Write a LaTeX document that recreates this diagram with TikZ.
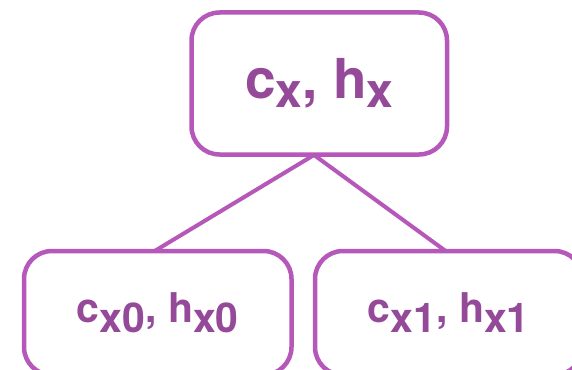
\documentclass[tikz,border=0pt]{standalone}
\usepackage{fontspec}
\setmainfont{TeX Gyre Heros}
\definecolor{boxline}{RGB}{181,88,185}
\definecolor{txt}{RGB}{148,74,152}
\newcommand{\sbx}[2]{\raisebox{#1}{#2}}
\tikzset{
  treebox/.style={draw=boxline, line width=4.5pt, rounded corners=28pt, fill=white, inner sep=0pt, text=txt, font=\bfseries},
  edge/.style={draw=boxline, line width=4pt}
}
\begin{document}
\begin{tikzpicture}[x=1pt,y=-1pt]
\useasboundingbox (0,0) rectangle (572,369);
\coordinate (tb) at (314,155);
\draw[edge] (tb) -- (153,252) coordinate (lt);
\draw[edge] (tb) -- (447,252) coordinate (rt);
\node[treebox, minimum width=255.5pt, minimum height=142pt] (top) at (319.25,83.5)
  {\fontsize{55}{60}\selectfont c\sbx{-9pt}{\fontsize{48}{50}\selectfont x}, h\sbx{-9pt}{\fontsize{48}{50}\selectfont x}};
\node[treebox, minimum width=267.5pt, minimum height=124pt] (left) at (157.75,313)
  {\fontsize{41}{45}\selectfont c\sbx{-10pt}{x0}, h\sbx{-10pt}{x0}};
\node[treebox, minimum width=267.5pt, minimum height=124pt] (right) at (448.75,313)
  {\fontsize{41}{45}\selectfont c\sbx{-10pt}{x1}, h\sbx{-10pt}{x1}};
\end{tikzpicture}
\end{document}
